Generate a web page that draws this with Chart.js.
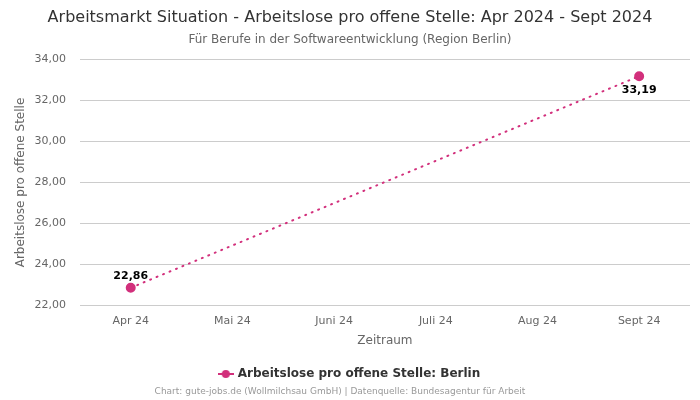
<!DOCTYPE html>
<html><head><meta charset="utf-8">
<script src="https://cdn.jsdelivr.net/npm/chart.js@4"></script>
<style>html,body{margin:0;padding:0;background:#fff}#wrap{width:700px;height:400px}</style>
</head><body><div id="wrap"><canvas id="c"></canvas></div>
<script>
const categories = ["Apr 24", "Mai 24", "Juni 24", "Juli 24", "Aug 24", "Sept 24"];
const values = [22.86, null, null, null, null, 33.19];
const labelPositions = ["above", null, null, null, null, "below"];
const yTicks = { min: 22, max: 34, step: 2 };
const seriesName = "Arbeitslose pro offene Stelle: Berlin";
const color = "#d2307c";
const FONT = "'DejaVu Sans', sans-serif";
const fmt = v => v.toLocaleString("de-DE", {minimumFractionDigits: 2, maximumFractionDigits: 2});

const legendIcon = document.createElement("canvas");
legendIcon.width = 16; legendIcon.height = 10;
(function(){
  const g = legendIcon.getContext("2d");
  g.strokeStyle = color; g.lineWidth = 2;
  g.beginPath(); g.moveTo(0, 5); g.lineTo(16, 5); g.stroke();
  g.fillStyle = color; g.beginPath(); g.arc(8, 5, 4, 0, Math.PI * 2); g.fill();
})();

const labelPlugin = {
  id: "valLabels",
  afterDatasetsDraw(chart) {
    const ctx = chart.ctx;
    const meta = chart.getDatasetMeta(0);
    ctx.save();
    ctx.font = "bold 11px " + FONT;
    ctx.fillStyle = "#000";
    ctx.textAlign = "center";
    meta.data.forEach((pt, i) => {
      const v = values[i];
      if (v === null) return;
      if (labelPositions[i] === "above") {
        ctx.textBaseline = "bottom";
        ctx.fillText(fmt(v), pt.x, pt.y - 6);
      } else {
        ctx.textBaseline = "top";
        ctx.fillText(fmt(v), pt.x, pt.y + 8);
      }
    });
    ctx.restore();
  }
};
const footerPlugin = {
  id: "footer",
  afterDraw(chart) {
    const ctx = chart.ctx;
    ctx.save();
    ctx.font = "9px " + FONT;
    ctx.fillStyle = "#999";
    ctx.textAlign = "center";
    ctx.textBaseline = "middle";
    ctx.fillText("Chart: gute-jobs.de (Wollmilchsau GmbH) | Datenquelle: Bundesagentur für Arbeit", 340, 392);
    ctx.restore();
  }
};

new Chart(document.getElementById("c"), {
  type: "line",
  data: {
    labels: categories,
    datasets: [{
      label: seriesName,
      data: values,
      borderColor: color,
      backgroundColor: color,
      borderWidth: 2,
      borderDash: [1, 6],
      borderCapStyle: "round",
      pointRadius: 4,
      pointHoverRadius: 4,
      pointBackgroundColor: color,
      pointBorderColor: color,
      spanGaps: true,
      tension: 0
    }]
  },
  options: {
    responsive: true,
    maintainAspectRatio: false,
    animation: false,
    layout: { padding: { left: 10, right: 10, top: 0, bottom: 10 } },
    plugins: {
      title: { display: true, text: "Arbeitsmarkt Situation - Arbeitslose pro offene Stelle: Apr 2024 - Sept 2024",
        color: "#333", font: { family: FONT, size: 16, weight: "normal" }, padding: { top: 8, bottom: 5 } },
      subtitle: { display: true, text: "Für Berufe in der Softwareentwicklung (Region Berlin)",
        color: "#666", font: { family: FONT, size: 12 }, padding: { bottom: 13 } },
      legend: { position: "bottom",
        labels: { color: "#333", font: { family: FONT, size: 12, weight: "bold" }, usePointStyle: true, boxWidth: 16, boxHeight: 10,
          generateLabels(chart) {
            return [{ text: seriesName, fillStyle: color, strokeStyle: color, lineWidth: 0, pointStyle: legendIcon, datasetIndex: 0, fontColor: "#333" }];
          } } },
      tooltip: { enabled: false }
    },
    scales: {
      x: {
        offset: true,
        grid: { display: false },
        border: { display: false },
        ticks: { color: "#666", font: { family: FONT, size: 11 }, padding: 1 },
        title: { display: true, text: "Zeitraum", color: "#666", font: { family: FONT, size: 12 }, padding: { top: 5, bottom: 10 } }
      },
      y: {
        min: yTicks.min, max: yTicks.max,
        ticks: { stepSize: yTicks.step, color: "#666", font: { family: FONT, size: 11 }, callback: v => fmt(v), padding: 14 },
        grid: { color: "#ccc", drawTicks: false },
        border: { display: false },
        title: { display: true, text: "Arbeitslose pro offene Stelle", color: "#666", font: { family: FONT, size: 12 }, padding: { top: 4, bottom: -8 } }
      }
    }
  },
  plugins: [labelPlugin, footerPlugin]
});
</script></body></html>
